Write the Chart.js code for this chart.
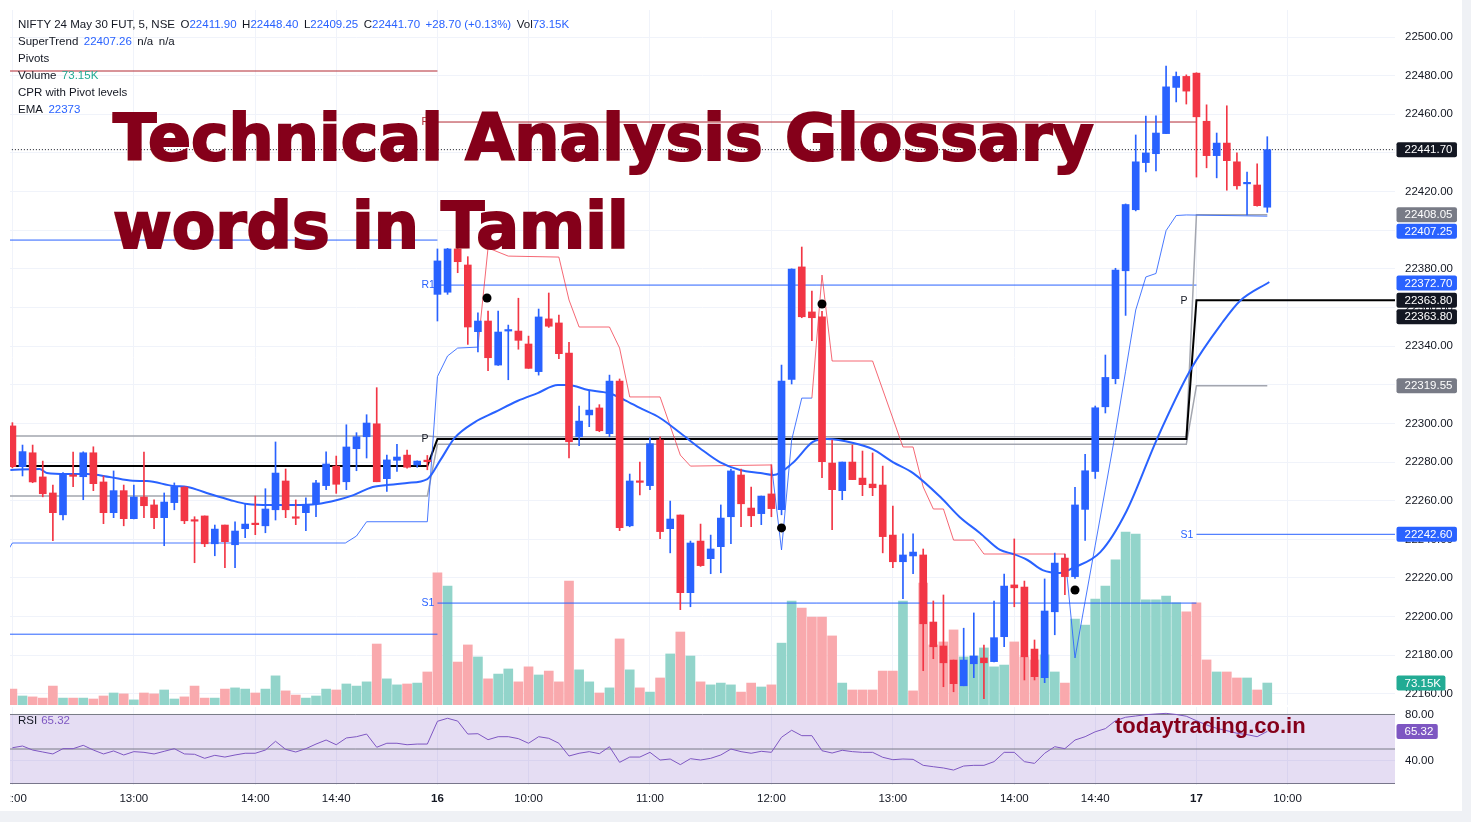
<!DOCTYPE html>
<html>
<head>
<meta charset="utf-8">
<title>NIFTY 24 May 30 FUT, 5, NSE</title>
<script src="https://cdn.jsdelivr.net/npm/chart.js@4.4.1/dist/chart.umd.min.js"></script>
<style>
html,body{margin:0;padding:0;background:#fff;}
body{width:1471px;height:822px;position:relative;overflow:hidden;font-family:'Liberation Sans',Arial,sans-serif;}
#frameR{position:absolute;left:1462px;top:0;width:9px;height:822px;background:#eff1f5;}
#frameB{position:absolute;left:0;top:811px;width:1471px;height:11px;background:#eff1f5;}
#priceChart{position:absolute;left:10px;top:10px;width:1452px;height:695px;}
#rsiChart{position:absolute;left:10px;top:707px;width:1452px;height:104px;}
.legend{position:absolute;left:18px;top:16px;font-size:11.5px;line-height:17px;color:#131722;white-space:nowrap;}
.legend .b{color:#2962ff;}
.legend .g{color:#22ab94;}
.legend .s{margin-left:5.5px;}
.rsiLegend{position:absolute;left:18px;top:714px;font-size:11.5px;color:#131722;}
.rsiLegend span{color:#7e57c2;margin-left:4px;}
.title{position:absolute;left:113px;top:94px;font-family:'DejaVu Sans',sans-serif;font-weight:bold;font-size:63.5px;line-height:88px;color:#85001a;white-space:nowrap;-webkit-text-stroke:2px #85001a;text-shadow:-1px 1px 0 rgba(230,150,40,0.4);}
.mark{position:absolute;left:1115px;top:713px;font-family:'Liberation Sans',Arial,sans-serif;font-weight:bold;font-size:22px;color:#85001a;white-space:nowrap;}
</style>
</head>
<body>
<div id="frameR"></div><div id="frameB"></div>
<canvas id="priceChart" width="1452" height="695"></canvas>
<canvas id="rsiChart" width="1452" height="104"></canvas>

<div class="legend">
<div>NIFTY 24 May 30 FUT, 5, NSE<span class="s">O</span><span class="b">22411.90</span><span class="s">H</span><span class="b">22448.40</span><span class="s">L</span><span class="b">22409.25</span><span class="s">C</span><span class="b">22441.70</span><span class="s b">+28.70 (+0.13%)</span><span class="s">Vol</span><span class="b">73.15K</span></div>
<div>SuperTrend<span class="s b">22407.26</span><span class="s">n/a</span><span class="s">n/a</span></div>
<div>Pivots</div>
<div>Volume<span class="s g">73.15K</span></div>
<div>CPR with Pivot levels</div>
<div>EMA<span class="s b">22373</span></div>
</div>
<div class="rsiLegend">RSI<span>65.32</span></div>
<div class="title">Technical Analysis Glossary<br>words in Tamil</div>
<div class="mark">todaytrading.co.in</div>

<script>
// 5 min candles: 15th 12:00-15:25, 16th full day, 17th 09:15-09:50
var op = [22298.7,22277.6,22284.8,22272.3,22264.0,22252.7,22273.0,22272.4,22284.8,22269.7,
22253.8,22265.2,22250.7,22261.9,22257.8,22251.2,22259.0,22267.0,22249.8,22252.1,
22237.7,22247.4,22237.2,22245.5,22247.9,22247.0,22255.3,22270.2,22251.2,22253.8,
22258.4,22267.8,22277.9,22269.8,22286.9,22293.1,22299.8,22271.4,22280.9,22283.6,
22278.5,22281.0,22366.8,22367.9,22390.3,22382.0,22347.5,22353.0,22330.2,22347.8,
22347.8,22341.1,22326.8,22354.1,22352.0,22336.4,22293.1,22304.4,22308.0,22294.7,
22321.9,22247.0,22269.9,22267.8,22291.4,22245.5,22252.6,22212.4,22239.1,22230.0,
22236.2,22251.7,22273.3,22256.2,22253.3,22263.5,22255.3,22322.8,22381.0,22357.7,
22355.2,22279.5,22265.2,22280.0,22271.7,22268.6,22268.1,22242.2,22228.4,22231.4,
22231.9,22197.2,22184.8,22177.5,22164.2,22175.6,22178.6,22176.7,22189.6,22216.4,
22215.3,22183.2,22168.4,22202.5,22230.3,22220.7,22255.5,22275.1,22308.6,22323.2,
22379.0,22410.6,22435.0,22439.6,22450.0,22473.9,22479.6,22481.3,22456.4,22438.6,
22445.1,22435.4,22424.0,22423.4,22411.9];
var hi = [22300.4,22288.8,22288.8,22280.5,22268.1,22274.5,22285.2,22285.3,22287.9,22272.8,
22275.4,22268.1,22268.1,22285.2,22260.5,22264.0,22269.2,22267.3,22251.7,22252.1,
22247.4,22247.4,22249.1,22258.3,22262.4,22266.2,22290.4,22276.4,22260.4,22261.5,
22270.5,22285.3,22283.1,22299.3,22295.2,22304.5,22318.5,22283.6,22289.2,22286.2,
22280.6,22283.4,22390.3,22390.6,22395.0,22386.3,22357.3,22358.2,22358.2,22350.9,
22364.8,22345.2,22359.2,22367.5,22356.1,22342.0,22309.0,22316.8,22309.7,22325.0,
22323.0,22273.8,22280.0,22292.6,22293.1,22259.8,22252.6,22239.1,22247.9,22242.2,
22257.8,22276.4,22276.4,22267.1,22262.4,22278.6,22330.2,22380.0,22391.3,22368.5,
22358.0,22291.4,22280.0,22288.8,22285.7,22284.7,22277.9,22257.2,22242.8,22242.8,
22235.0,22208.1,22211.2,22177.5,22194.0,22201.9,22185.3,22208.1,22222.0,22240.2,
22218.4,22187.9,22219.5,22232.9,22232.4,22266.9,22284.0,22309.0,22335.4,22380.3,
22413.6,22449.3,22459.1,22459.2,22485.0,22481.9,22480.4,22481.5,22464.9,22450.3,
22464.4,22440.0,22430.1,22434.3,22448.4];
var lo = [22277.0,22272.8,22269.3,22262.0,22239.3,22250.0,22267.3,22260.5,22265.2,22248.1,
22251.2,22247.0,22250.5,22251.2,22245.5,22236.7,22255.3,22248.1,22227.9,22236.2,
22231.5,22225.3,22225.3,22240.8,22242.4,22243.4,22250.0,22251.2,22247.6,22244.5,
22251.7,22265.7,22263.8,22265.7,22275.5,22282.1,22269.8,22264.8,22275.2,22276.8,
22277.3,22276.0,22353.0,22366.8,22378.0,22340.9,22337.0,22327.3,22330.0,22322.6,
22338.4,22328.5,22325.0,22349.7,22333.5,22282.2,22288.5,22298.3,22295.7,22293.1,
22244.5,22246.5,22263.0,22265.7,22240.3,22233.0,22203.6,22205.1,22226.0,22222.2,
22222.7,22237.7,22246.5,22246.5,22247.6,22251.7,22252.7,22320.4,22354.7,22342.8,
22271.9,22245.0,22260.5,22270.9,22262.6,22262.6,22233.0,22225.3,22209.3,22222.2,
22172.0,22178.2,22163.7,22161.1,22164.2,22168.4,22157.5,22176.5,22184.4,22205.1,
22167.2,22167.2,22165.8,22190.6,22211.3,22219.8,22239.4,22271.5,22305.4,22320.5,
22355.9,22410.0,22430.2,22430.7,22450.0,22466.4,22465.3,22427.5,22432.3,22427.1,
22420.7,22421.3,22407.9,22412.5,22409.25];
var cl = [22277.6,22285.4,22269.7,22263.6,22253.8,22273.8,22272.6,22284.8,22268.8,22253.8,
22265.2,22250.7,22261.9,22257.4,22251.2,22259.3,22267.3,22249.6,22249.4,22237.7,
22245.3,22238.8,22244.3,22247.9,22247.6,22255.7,22274.3,22255.3,22250.9,22257.9,
22269.2,22279.0,22268.5,22287.8,22293.1,22300.2,22269.8,22281.1,22282.6,22277.3,
22280.5,22280.2,22384.1,22390.3,22383.7,22349.9,22353.0,22334.0,22347.3,22348.2,
22343.0,22328.5,22355.1,22350.3,22336.1,22290.5,22301.2,22306.9,22296.2,22321.9,
22246.0,22270.2,22269.5,22289.5,22244.0,22250.5,22212.4,22238.1,22226.4,22235.0,
22251.0,22275.4,22258.4,22252.2,22262.4,22255.9,22321.9,22379.9,22355.2,22354.7,
22280.2,22265.7,22280.0,22270.9,22268.3,22266.7,22241.4,22228.4,22231.9,22233.4,
22196.3,22184.4,22176.1,22165.3,22177.5,22179.6,22176.1,22189.1,22215.8,22214.9,
22179.2,22168.9,22202.9,22227.7,22220.7,22257.8,22275.5,22308.1,22323.8,22379.4,
22413.3,22435.4,22440.0,22450.3,22474.2,22479.6,22472.0,22458.7,22438.6,22445.1,
22436.0,22423.0,22424.5,22412.7,22441.7];
// volume in thousands
var vol = [53,30,27,23,63,23,23,23,20,30,40,37,17,40,37,50,20,27,63,23,
23,53,57,53,40,53,97,47,33,23,30,53,50,70,63,77,203,87,67,70,
73,110,440,396,143,200,160,87,103,120,77,127,100,113,77,413,117,77,40,57,
220,117,57,43,90,170,243,163,77,67,73,67,43,73,60,67,206,346,323,293,
293,230,73,50,50,50,113,113,346,47,406,200,210,250,160,163,190,127,133,210,
160,150,167,110,73,286,266,353,396,483,576,569,350,350,363,340,310,340,150,110,
110,90,90,50,73.15];
// volume bars whose colour differs from their candle
var volDownIdx = [42, 89];
var volUpIdx = [96];
var rsi = [51.1,52.6,49.1,47.4,45.7,50.3,50.3,53.2,49.1,45.7,48.3,44.8,47.7,47.1,45.7,48,50.3,45.7,45.4,41.9,
44.5,43,44.8,46.3,46.3,49.1,56.7,49.7,47.4,50.3,54.3,57.8,53.7,59.6,60.7,63,51.5,55,55,53.7,
54.3,54.3,74.1,76.7,74.3,63,63.3,58.1,60.7,60.7,59,55,60.7,59.3,55,43.9,46.3,47.7,45.9,52,
38.4,43,43,47.1,40.4,41.3,36.4,41.6,40.4,41.9,44.8,50,47.7,46.3,48,47.1,60.2,66.3,61.6,61.6,
48.5,46.5,48.9,47.7,47.1,47.1,42.8,40.7,41.3,41,35.8,34.6,33.5,31.7,35.2,35.8,35.8,39,47.1,47.1,
39,37.5,46.3,52,50.3,57.8,60.7,65,67.7,74.6,77.6,78.7,79.8,80.5,81,80,78.5,74.6,70.9,68,
65.9,63.7,62.5,60.7,65.32];

var ema = [[-0.2,22275.9],[2.7,22276.4],[3.4,22274.3],[5.4,22273.8],[7.4,22273.8],[9.6,22272.3],[11.9,22270.3],[13.3,22270.2],
[15.9,22267.6],[17.3,22267.1],[19.2,22264],[21.5,22260.4],[23.2,22258.3],[25.5,22257.8],[27.7,22257.8],[30.1,22258.3],
[32.1,22260.4],[33.7,22262.9],[35.6,22267.1],[37,22268.1],[39,22269.2],[41,22271.2],[42.3,22281.1],[43.7,22292.5],
[45.7,22300.7],[47.7,22305.9],[49.9,22311.6],[51.9,22315.7],[53.9,22319.9],[54.9,22319.9],[56.9,22317.3],[58.9,22315.7],
[60.5,22312.1],[62,22308],[64,22302.8],[66,22295],[67.9,22287.3],[69.9,22280],[71.9,22275.9],[73.9,22274.3],
[75.2,22273.3],[77.1,22279.5],[79.1,22290.4],[80.5,22291.9],[83.1,22289.9],[85,22286.7],[87,22280],[89,22274.3],
[91.7,22261.9],[93.6,22251.6],[95.6,22243.3],[97.6,22234.5],[98.9,22232.4],[100.3,22229.3],[101.8,22224.1],[103.5,22222.6],
[104.8,22225.2],[107.5,22233.4],[110.1,22254.7],[113.1,22291.9],[116.4,22327.6],[119.6,22352.5],[121.3,22363.4],[124.2,22373.2]];

// supertrend pieces [index, price]
var stUp = [
 [[-0.3,22235.5],[0,22238.1],[32.9,22238.1],[34,22241.7],[35,22249.1],[41,22249.1],[42,22324.2],[43,22334.9],[44,22339],[46,22339.5]],
 [[75,22278.5],[76,22234.5],[77,22291.4],[78,22313.1],[79,22313.1]],
 [[104,22232.4],[105,22178.6],[106,22207.9],[107,22237],[108,22266],[109,22295.3],[110,22327],[111,22358.7],[112,22375.8],[113,22377.6],[114,22399.8],[115,22407.6],[116,22407.9],[124,22407.26]]
];
var stDn = [
 [[46,22339.5],[47,22390.8],[49,22386.6],[54,22386.1],[55,22363.9],[56,22349.9],[59,22349.9],[60,22339],[61,22313.7],[64,22313.7],[66,22283.6],[67,22277.9],[75,22278.5]],
 [[79,22313.1],[80,22376.8],[81,22332.3],[85,22332.3],[88,22287.8],[89,22287.8],[90,22267.1],[91,22255.7],[92,22255.7],[93,22239.6],[95,22239.6],[96,22232.4],[104,22232.4]]
];
var dots = [[46.9,22364.9],[76,22245.9],[80,22361.8],[105,22213.8]];

// pivot / CPR levels
var pivP  = [[-1,22277.9],[41,22277.9],[42,22291.9],[116,22291.9],[117,22363.8],[140,22363.8]];
var cprTC = [[-1,22293.5],[41,22293.5],[42,22293.1],[116,22293.1],[117,22408.05],[124,22408.05]];
var cprBC = [[-1,22262.4],[41,22262.4],[42,22289.2],[116,22289.2],[117,22319.55],[124,22319.55]];
var r2 = [[[-1,22482.4],[42,22482.4]],[[42,22456],[117,22456]]];
var r1 = [[[-1,22394.9],[42,22394.9]],[[42,22371.6],[117,22371.6]]];
var s1 = [[[-1,22190.9],[42,22190.9]],[[42,22207],[117,22207]],[[117,22242.6],[140,22242.6]]];
var pivLabels = [['R2',42,22456,'#b22833'],['R1',42,22371.6,'#2962ff'],['P',42,22291.9,'#131722'],['S1',42,22207,'#2962ff'],['P',117,22363.8,'#131722'],['S1',117,22242.6,'#2962ff']];

var lastPrice = 22441.70;
var priceTags = [[22441.70,'#131722'],[22408.05,'#787b86'],[22407.25,'#2962ff'],[22372.70,'#2962ff'],[22363.80,'#131722'],[22363.80,'#131722'],[22319.55,'#787b86'],[22242.60,'#2962ff']];

var xTickIdx = [0,12,24,32,42,51,63,75,87,99,107,117,126];
var xTickLab = ['12:00','13:00','14:00','14:40','16','10:00','11:00','12:00','13:00','14:00','14:40','17','10:00'];
var priceTicks = [22160,22180,22200,22220,22240,22260,22280,22300,22320,22340,22360,22380,22400,22420,22440,22460,22480,22500];

var xMin = -0.237, xMax = 136.62;
var upCol = '#2962ff', dnCol = '#f23645';
var gridCol = '#f0f3fa';

Chart.defaults.font.family = "'Liberation Sans', Arial, sans-serif";
Chart.defaults.font.size = 11.5;
Chart.defaults.color = '#131722';

function pts(a){
	return a.map(function(p){ return {x:p[0], y:p[1]}; });
}
function lineDs(a, col, w, ord, dash){
	return {type:'line', data:pts(a), borderColor:col, borderWidth:w, pointRadius:0, fill:false, order:ord, borderDash:dash||[], tension:0};
}
function noPad(scale){
	scale.paddingLeft = 0; scale.paddingRight = 0; scale.paddingTop = 0; scale.paddingBottom = 0;
}
function drawTag(ctx, x, y, text, bg){
	ctx.font = "11.5px 'Liberation Sans', Arial, sans-serif";
	var w = ctx.measureText(text).width + 12.5;
	ctx.fillStyle = bg;
	ctx.beginPath();
	if(ctx.roundRect){ ctx.roundRect(x, y-7.5, w, 15, 2); } else { ctx.rect(x, y-7.5, w, 15); }
	ctx.fill();
	ctx.fillStyle = '#fff';
	ctx.textAlign = 'left';
	ctx.textBaseline = 'middle';
	ctx.fillText(text, x+8, y+0.5);
}

var isUp = cl.map(function(v,i){ return v >= op[i]; });
var volUp = isUp.map(function(u,i){
	if(volDownIdx.indexOf(i) >= 0) return false;
	if(volUpIdx.indexOf(i) >= 0) return true;
	return u;
});

var ds = [];
ds.push({type:'bar', data: lo.map(function(v,i){ return {x:i, y:[lo[i],hi[i]]}; }),
	backgroundColor: isUp.map(function(u){ return u?upCol:dnCol; }), barThickness:1, grouped:false, order:3});
ds.push({type:'bar', data: op.map(function(v,i){ return {x:i, y:[op[i],cl[i]]}; }),
	backgroundColor: isUp.map(function(u){ return u?upCol:dnCol; }), barThickness:7, grouped:false, minBarLength:1.5, order:2});
ds.push({type:'bar', yAxisID:'yv', data: vol.map(function(v,i){ return {x:i, y:v}; }),
	backgroundColor: volUp.map(function(u){ return u?'#92d4ca':'#f9a9ad'; }), barThickness:9, grouped:false, order:40});

ds.push(lineDs(cprTC, '#a3a6af', 1.5, 12));
ds.push(lineDs(cprBC, '#a3a6af', 1.5, 12));
ds.push(lineDs(pivP, '#000000', 2, 11));
r2.forEach(function(s){ ds.push(lineDs(s, '#b22833', 1, 13)); });
r1.forEach(function(s){ ds.push(lineDs(s, '#2962ff', 1, 13)); });
s1.forEach(function(s){ ds.push(lineDs(s, '#2962ff', 1, 13)); });
ds.push(lineDs([[xMin-1,lastPrice],[xMax+1,lastPrice]], '#131722', 1, 14, [1,2]));
stUp.forEach(function(s){ ds.push(lineDs(s, 'rgba(41,98,255,0.85)', 1, 6)); });
stDn.forEach(function(s){ ds.push(lineDs(s, 'rgba(242,54,69,0.75)', 1, 6)); });
var emaDs = lineDs(ema, '#2962ff', 2, 5);
emaDs.cubicInterpolationMode = 'monotone';
ds.push(emaDs);
ds.push({type:'line', data:pts(dots), showLine:false, pointRadius:4.5, pointBackgroundColor:'#000', pointBorderWidth:0, order:0});

var pricePlugin = {
	id:'priceExtras',
	afterDraw: function(chart){
		var ctx = chart.ctx, ys = chart.scales.y, xs = chart.scales.x, a = chart.chartArea;
		ctx.save();
		ctx.font = "10.5px 'Liberation Sans', Arial, sans-serif";
		ctx.textAlign = 'left';
		ctx.textBaseline = 'middle';
		pivLabels.forEach(function(p){
			ctx.fillStyle = p[3];
			ctx.fillText(p[0], xs.getPixelForValue(p[1]) - 16, ys.getPixelForValue(p[2]) + 0.5);
		});
		var list = priceTags.map(function(t){ return {y: ys.getPixelForValue(t[0]), text: t[0].toFixed(2), bg: t[1]}; });
		list.sort(function(m,n){ return m.y - n.y; });
		for(var i=1;i<list.length;i++){
			if(list[i].y < list[i-1].y + 16.5){ list[i].y = list[i-1].y + 16.5; }
		}
		list.forEach(function(t){ drawTag(ctx, a.right + 1.5, t.y, t.text, t.bg); });
		var vs = chart.scales.yv;
		drawTag(ctx, a.right + 1.5, vs.getPixelForValue(vol[vol.length-1]), vol[vol.length-1].toFixed(2) + 'K', '#22ab94');
		ctx.restore();
	}
};

var priceChart = new Chart(document.getElementById('priceChart').getContext('2d'), {
	type:'bar',
	data:{ datasets: ds },
	options:{
		responsive:false,
		animation:false,
		layout:{ padding:0, autoPadding:false },
		plugins:{ legend:{display:false}, tooltip:{enabled:false} },
		scales:{
			x:{
				type:'linear', min:xMin, max:xMax, offset:false,
				grid:{ color:gridCol, drawTicks:false, offset:false },
				border:{ display:false },
				ticks:{ display:false },
				afterBuildTicks: function(s){ s.ticks = xTickIdx.map(function(v){ return {value:v}; }); },
				afterFit: function(s){ noPad(s); s.height = 0; }
			},
			y:{
				position:'right', min:22154.25, max:22513.98,
				grid:{ color:gridCol, drawTicks:false },
				border:{ display:false },
				ticks:{ padding:10, callback: function(v){ return Number(v).toFixed(2); } },
				afterBuildTicks: function(s){ s.ticks = priceTicks.map(function(v){ return {value:v}; }); },
				afterFit: function(s){ noPad(s); s.width = 67; }
			},
			yv:{ display:false, min:0, max:2314 }
		}
	},
	plugins:[pricePlugin]
});

// RSI pane
var rsiPlugin = {
	id:'rsiExtras',
	afterDraw: function(chart){
		var ctx = chart.ctx, ys = chart.scales.y, a = chart.chartArea;
		ctx.save();
		drawTag(ctx, a.right + 1.5, ys.getPixelForValue(rsi[rsi.length-1]), rsi[rsi.length-1].toFixed(2), '#7e57c2');
		ctx.restore();
	}
};

var rsiChart = new Chart(document.getElementById('rsiChart').getContext('2d'), {
	type:'line',
	data:{ datasets:[
		{data: rsi.map(function(v,i){ return {x:i, y:v}; }), borderColor:'#7e57c2', borderWidth:1, pointRadius:0, fill:false, tension:0, order:0},
		{data: pts([[xMin-1,80],[xMax+1,80]]), borderColor:'#787b86', borderWidth:1, pointRadius:0, fill:'+1', backgroundColor:'rgba(126,87,194,0.2)', order:2},
		{data: pts([[xMin-1,20],[xMax+1,20]]), borderColor:'#787b86', borderWidth:1, pointRadius:0, fill:false, order:2},
		{data: pts([[xMin-1,50],[xMax+1,50]]), borderColor:'#787b86', borderWidth:1, pointRadius:0, fill:false, order:1}
	]},
	options:{
		responsive:false,
		animation:false,
		layout:{ padding:0, autoPadding:false },
		plugins:{ legend:{display:false}, tooltip:{enabled:false} },
		scales:{
			x:{
				type:'linear', min:xMin, max:xMax, offset:false,
				grid:{ color:gridCol, drawTicks:false },
				border:{ display:false },
				ticks:{
					padding:7, autoSkip:false, maxRotation:0,
					font: function(c){ var t = c.tick && xTickLab[xTickIdx.indexOf(c.tick.value)]; return {size:11.5, weight:(t==='16'||t==='17')?'bold':'normal'}; },
					callback: function(v){ var k = xTickIdx.indexOf(v); return k<0 ? '' : xTickLab[k]; }
				},
				afterBuildTicks: function(s){ s.ticks = xTickIdx.map(function(v){ return {value:v}; }); },
				afterFit: function(s){ noPad(s); s.height = 26; }
			},
			y:{
				position:'right', min:18.70, max:86.52,
				grid:{ color:gridCol, drawTicks:false },
				border:{ display:false },
				ticks:{ padding:10, callback: function(v){ return Number(v).toFixed(2); } },
				afterBuildTicks: function(s){ s.ticks = [{value:40},{value:80}]; },
				afterFit: function(s){ noPad(s); s.width = 67; }
			}
		}
	},
	plugins:[rsiPlugin]
});
</script>
</body>
</html>
